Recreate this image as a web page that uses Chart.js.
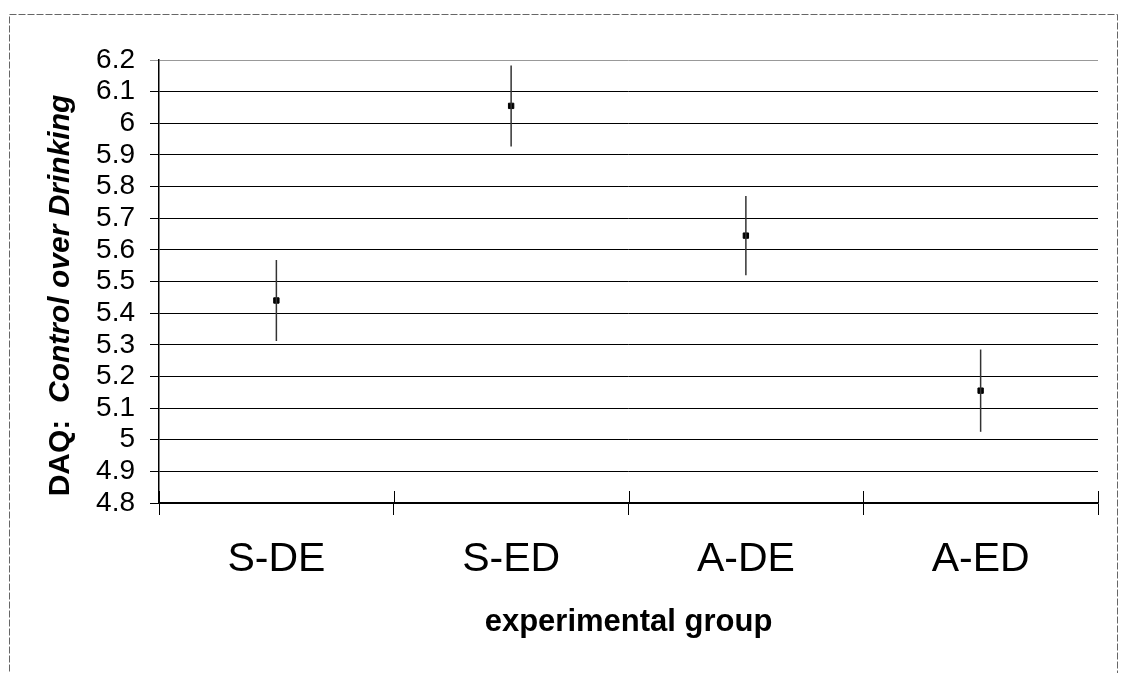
<!DOCTYPE html>
<html>
<head>
<meta charset="utf-8">
<script src="https://cdn.jsdelivr.net/npm/chart.js@4/dist/chart.umd.min.js"></script>
<style>
  html, body { margin: 0; padding: 0; background: #fff; }
  #wrap { width: 1124px; height: 673px; }
</style>
</head>
<body>
<div id="wrap"><canvas id="Chart" width="1124" height="673"></canvas></div>
<script>
const categories = ["S-DE", "S-ED", "A-DE", "A-ED"];
const means = [5.44, 6.055, 5.645, 5.155];
const errors = [0.128, 0.128, 0.125, 0.13];
const yMin = 4.8;
const yMax = 6.2;
const yStep = 0.1;

const FONT = "'Liberation Sans', Arial, sans-serif";

// page frame + white background
const framePlugin = {
    id: "frame",
    beforeDraw(chart) {
        const c = chart.ctx;
        c.save();
        c.fillStyle = "#fff";
        c.fillRect(0, 0, chart.width, chart.height);
        c.strokeStyle = "#666";
        c.lineWidth = 1;
        c.setLineDash([7, 2]);
        c.strokeRect(9.5, 14.5, chart.width - 16, chart.height + 10);
        c.restore();
    }
};

// vertical error bars from the data arrays
const errorBarPlugin = {
    id: "errorBars",
    afterDatasetsDraw(chart) {
        const c = chart.ctx;
        const x = chart.scales.x;
        const y = chart.scales.y;
        c.save();
        c.strokeStyle = "#333";
        c.lineWidth = 1.5;
        means.forEach((m, i) => {
            const px = x.getPixelForValue(i);
            c.beginPath();
            c.moveTo(px, y.getPixelForValue(m + errors[i]));
            c.lineTo(px, y.getPixelForValue(m - errors[i]));
            c.stroke();
        });
        c.restore();
    }
};

// cross tick marks on the category axis (upper half; lower half is the grid tick)
const crossTickPlugin = {
    id: "crossTicks",
    afterDraw(chart) {
        const c = chart.ctx;
        const x = chart.scales.x;
        const half = (x.getPixelForValue(1) - x.getPixelForValue(0)) / 2;
        const bottom = chart.chartArea.bottom;
        c.save();
        c.strokeStyle = "#000";
        c.lineWidth = 1;
        for (let i = 0; i <= categories.length; i++) {
            const px = Math.round(x.getPixelForValue(i) - half) + 0.5;
            c.beginPath();
            c.moveTo(px, bottom - 12);
            c.lineTo(px, bottom);
            c.stroke();
        }
        c.restore();
    }
};

// y axis title with mixed bold / bold italic
const yTitlePlugin = {
    id: "yTitle",
    afterDraw(chart) {
        const c = chart.ctx;
        const area = chart.chartArea;
        const part1 = "DAQ:  ";
        const part2 = "Control over Drinking";
        const f1 = "bold 30px " + FONT;
        const f2 = "italic bold 30px " + FONT;
        c.save();
        c.font = f1;
        const w1 = c.measureText(part1).width;
        c.font = f2;
        const w2 = c.measureText(part2).width;
        c.translate(61, (area.top + area.bottom) / 2 + 14);
        c.rotate(-Math.PI / 2);
        c.fillStyle = "#000";
        c.textBaseline = "middle";
        c.textAlign = "left";
        const start = -(w1 + w2) / 2;
        c.font = f1;
        c.fillText(part1, start, 0);
        c.font = f2;
        c.fillText(part2, start + w1, 0);
        c.restore();
    }
};

const ctx = document.getElementById("Chart");

const data = {
    labels: categories,
    datasets: [{
        label: "DAQ: Control over Drinking",
        data: means,
        showLine: false,
        pointStyle: "rect",
        pointRadius: 3.8,
        pointHoverRadius: 3.8,
        pointBackgroundColor: "#000",
        pointBorderColor: "#000",
        borderColor: "#000",
    }]
};

const config = {
    type: "line",
    data: data,
    options: {
        responsive: false,
        animation: false,
        events: [],
        layout: {
            padding: { top: 60, right: 26, bottom: 0, left: 0 }
        },
        plugins: {
            legend: { display: false },
            tooltip: { enabled: false },
        },
        scales: {
            x: {
                type: "category",
                offset: true,
                grid: {
                    offset: true,
                    drawOnChartArea: false,
                    drawTicks: true,
                    tickLength: 12,
                    color: "#000",
                },
                border: { display: true, color: "#000", width: 1.5 },
                ticks: {
                    color: "#000",
                    font: { family: FONT, size: 41 },
                    padding: 20,
                    maxRotation: 0,
                },
                title: {
                    display: true,
                    text: "experimental group",
                    color: "#000",
                    font: { family: FONT, size: 31, weight: "bold" },
                    padding: { top: 0, bottom: 32 },
                },
                afterFit(scale) {
                    scale.height = 170;
                },
            },
            y: {
                min: yMin,
                max: yMax,
                ticks: {
                    stepSize: yStep,
                    autoSkip: false,
                    color: "#000",
                    font: { family: FONT, size: 28, lineHeight: 1 },
                    padding: 15,
                    callback: (v) => String(Number(v.toFixed(1))),
                },
                grid: {
                    color: (c) => (c.tick && Math.abs(c.tick.value - yMax) < 1e-6 ? "#999" : "#000"),
                    lineWidth: 1,
                    tickLength: 9,
                },
                border: { display: true, color: "#000", width: 1.5 },
                afterFit(scale) {
                    scale.width = 159;
                },
            },
        },
    },
    plugins: [framePlugin, errorBarPlugin, crossTickPlugin, yTitlePlugin],
};

new Chart(ctx, config);
</script>
</body>
</html>
